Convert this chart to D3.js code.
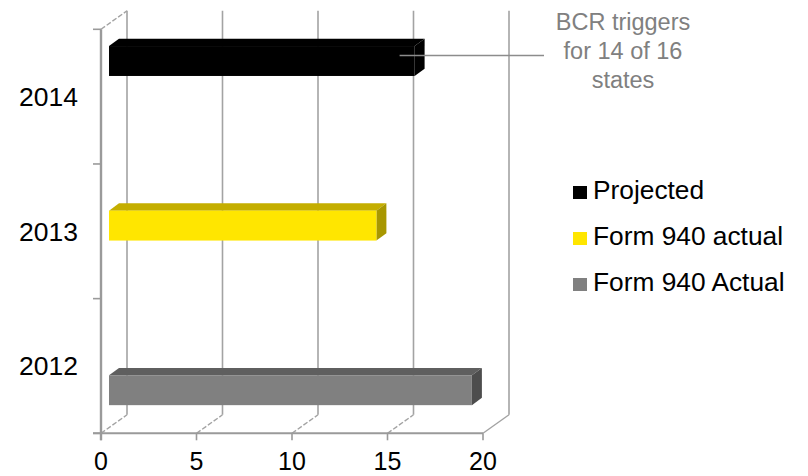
<!DOCTYPE html>
<html>
<head>
<meta charset="utf-8">
<script src="https://cdn.jsdelivr.net/npm/d3@7"></script>
<style>
  html, body { margin: 0; padding: 0; background: #fff; }
  svg { display: block; font-family: "Liberation Sans", Arial, sans-serif; }
</style>
</head>
<body>
<svg id="chart" width="808" height="476"></svg>
<script>
// Chart data
const categories = ["2012", "2013", "2014"];
const seriesNames = ["Form 940 Actual", "Form 940 actual", "Projected"];
const formActualUpper = [19, null, null];   // Form 940 Actual
const formActualLower = [null, 14, null];   // Form 940 actual
const projected = [null, null, 16];         // Projected
const xTicks = [0, 5, 10, 15, 20];
const legendOrder = ["Projected", "Form 940 actual", "Form 940 Actual"];
const noteLines = ["BCR triggers", "for 14 of 16", "states"];

const seriesValues = {
  "Form 940 Actual": formActualUpper,
  "Form 940 actual": formActualLower,
  "Projected": projected
};

// Face colours for each series: front, top, side
const palette = {
  "Projected":       { front: "#000000", top: "#000000", side: "#000000" },
  "Form 940 actual": { front: "#FFE600", top: "#C4AE00", side: "#A89700" },
  "Form 940 Actual": { front: "#808080", top: "#5F5F5F", side: "#4D4D4D" }
};

const svg = d3.select("#chart");

// Front plane scales
const x = d3.scaleLinear().domain([0, 20]).range([101, 483]);
const y = d3.scaleBand().domain(categories.slice().reverse()).range([29.3, 433.3]).padding(0);
const ySeries = d3.scaleBand()
  .domain(legendOrder)
  .range([0, y.bandwidth()])
  .paddingInner(0)
  .paddingOuter(0.75);

// Perspective offsets: full wall depth, and the slab occupied by the bars
const wall = { dx: 26, dy: -18.5 };
const barFront = { dx: 8, dy: -5.7 };
const barDepth = { dx: 10, dy: -7.3 };

const gridColor = "#A3A3A3";
const axisColor = "#9A9A9A";

// Back wall gridlines
const grid = svg.append("g");
xTicks.forEach(t => {
  grid.append("line")
    .attr("x1", x(t) + wall.dx).attr("x2", x(t) + wall.dx)
    .attr("y1", y.range()[0] + wall.dy).attr("y2", y.range()[1] + wall.dy)
    .attr("stroke", gridColor).attr("stroke-width", 1.6);
  // floor depth lines
  grid.append("line")
    .attr("x1", x(t)).attr("y1", y.range()[1])
    .attr("x2", x(t) + wall.dx).attr("y2", y.range()[1] + wall.dy)
    .attr("stroke", gridColor).attr("stroke-width", 1.4)
    .attr("stroke-dasharray", t === 20 ? null : "5,2");
});
// top-left side wall edge
grid.append("line")
  .attr("x1", x(0)).attr("y1", y.range()[0])
  .attr("x2", x(0) + wall.dx).attr("y2", y.range()[0] + wall.dy)
  .attr("stroke", gridColor).attr("stroke-width", 1.4)
  .attr("stroke-dasharray", "5,2");

// Front axes
const axes = svg.append("g");
axes.append("line")
  .attr("x1", x(0)).attr("x2", x(0))
  .attr("y1", y.range()[0]).attr("y2", y.range()[1] + 7)
  .attr("stroke", axisColor).attr("stroke-width", 2.4);
axes.append("line")
  .attr("x1", x(0) - 8).attr("x2", x(20))
  .attr("y1", y.range()[1]).attr("y2", y.range()[1])
  .attr("stroke", axisColor).attr("stroke-width", 2);

// category boundary ticks
const catEdges = y.domain().map(c => y(c)).concat([y.range()[1]]);
catEdges.forEach(v => {
  axes.append("line")
    .attr("x1", x(0) - 8).attr("x2", x(0))
    .attr("y1", v).attr("y2", v)
    .attr("stroke", axisColor).attr("stroke-width", 1.6);
});
// value ticks
xTicks.forEach(t => {
  axes.append("line")
    .attr("x1", x(t)).attr("x2", x(t))
    .attr("y1", y.range()[1]).attr("y2", y.range()[1] + 7)
    .attr("stroke", axisColor).attr("stroke-width", 1.6);
});

// Tick labels
svg.append("g").selectAll("text").data(xTicks).join("text")
  .attr("x", d => x(d))
  .attr("y", 470)
  .attr("text-anchor", "middle")
  .attr("font-size", 25)
  .attr("fill", "#000")
  .text(d => d);

svg.append("g").selectAll("text").data(categories).join("text")
  .attr("x", 78)
  .attr("y", d => y(d) + y.bandwidth() / 2 + 9.5)
  .attr("text-anchor", "end")
  .attr("font-size", 26.5)
  .attr("fill", "#000")
  .text(d => d);

// 3D bars
const bars = [];
categories.forEach((c, i) => {
  seriesNames.forEach(s => {
    const v = seriesValues[s][i];
    if (v != null) bars.push({ category: c, series: s, value: v });
  });
});

const barG = svg.append("g");
bars.forEach(b => {
  const x0 = x(0) + barFront.dx;
  const x1 = x(b.value) + barFront.dx;
  const y0 = y(b.category) + ySeries(b.series) + barFront.dy;
  const y1 = y0 + ySeries.bandwidth();
  const dx = barDepth.dx, dy = barDepth.dy;
  const col = palette[b.series];
  // top face
  barG.append("path")
    .attr("d", `M${x0},${y0}L${x0 + dx},${y0 + dy}L${x1 + dx},${y0 + dy}L${x1},${y0}Z`)
    .attr("fill", col.top);
  // side face
  barG.append("path")
    .attr("d", `M${x1},${y0}L${x1 + dx},${y0 + dy}L${x1 + dx},${y1 + dy}L${x1},${y1}Z`)
    .attr("fill", col.side);
  // front face
  barG.append("rect")
    .attr("x", x0).attr("y", y0)
    .attr("width", x1 - x0).attr("height", y1 - y0)
    .attr("fill", col.front);
});

// Callout on the projected bar
const projBar = bars.find(b => b.series === "Projected");
const calloutY = y(projBar.category) + ySeries(projBar.series) + barFront.dy + ySeries.bandwidth() / 2 - 5.5;
svg.append("line")
  .attr("x1", x(projBar.value) - 7).attr("x2", 544)
  .attr("y1", calloutY).attr("y2", calloutY)
  .attr("stroke", "#8C8C8C").attr("stroke-width", 1.6);

svg.append("g").selectAll("text").data(noteLines).join("text")
  .attr("x", 623)
  .attr("y", (d, i) => 29.5 + i * 29)
  .attr("text-anchor", "middle")
  .attr("font-size", 23.5)
  .attr("fill", "#808080")
  .text(d => d);

// Legend
const legend = svg.append("g");
legendOrder.forEach((s, i) => {
  const by = 199 + i * 46;
  legend.append("rect")
    .attr("x", 573).attr("y", by - 13)
    .attr("width", 14).attr("height", 13)
    .attr("fill", palette[s].front);
  legend.append("text")
    .attr("x", 593).attr("y", by)
    .attr("font-size", 26.3)
    .attr("fill", "#000")
    .text(s);
});
</script>
</body>
</html>
